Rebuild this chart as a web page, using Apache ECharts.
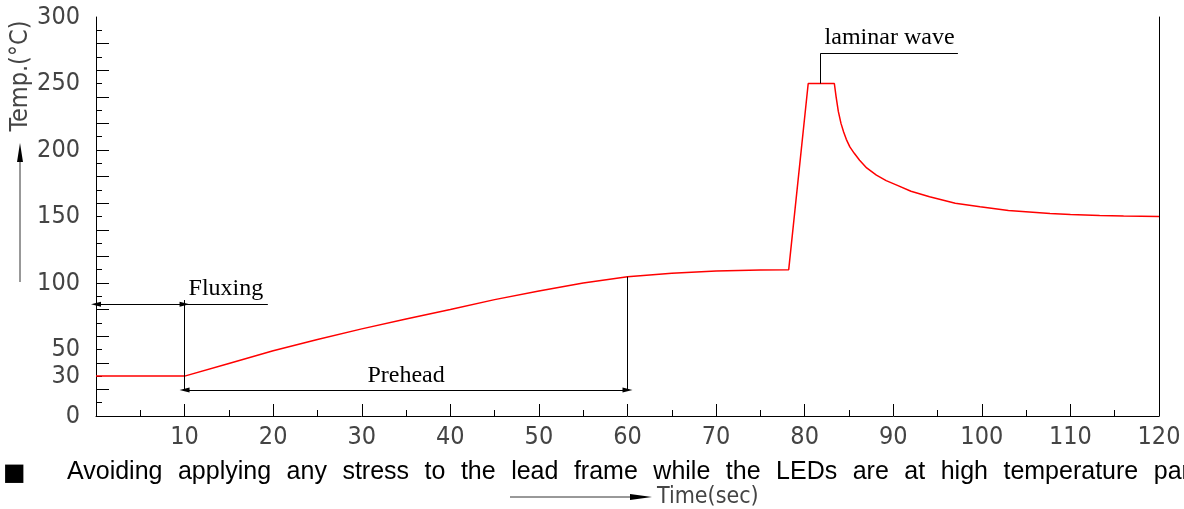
<!DOCTYPE html>
<html>
<head>
<meta charset="utf-8">
<title>Wave soldering profile</title>
<script src="https://cdn.jsdelivr.net/npm/echarts@6/dist/echarts.min.js"></script>
<style>
html, body { margin: 0; padding: 0; background: #fff; }
#main { width: 1184px; height: 509px; }
</style>
</head>
<body>
<div id="main"></div>
<script>
// 焊接温度曲线: 时间(sec) - 温度(°C)
var timeData = [0, 10, 15, 20, 25, 30, 35, 40, 45, 50, 55, 60, 65, 70, 75, 78.2,
    80.4, 81.8, 83.35, 83.55, 83.8, 84.1, 84.4, 84.7, 85.1, 85.6, 86.2, 87, 88.1, 89.2, 90.4,
    92, 94.1, 97, 99.8, 103, 107.7, 110, 113.3, 116, 120];
var tempData = [30, 30, 39.5, 49, 57.5, 65.5, 73, 80, 87.5, 94, 100, 104.7, 107.3, 109, 109.8, 110,
    250, 250, 250, 240, 229, 220, 213.6, 208, 202.3, 197.5, 192.3, 186.5, 181.1, 177, 173.6,
    169, 164.8, 160, 157.3, 154.5, 152.3, 151.5, 150.7, 150.3, 150];

// 刻度
var yLabels = [0, 30, 50, 100, 150, 200, 250, 300];
var yLongTicks = [20, 40, 60, 80, 100, 120, 140, 160, 180, 200, 220, 240, 260, 280];
var yShortTicks = [10, 30, 50, 70, 90, 110, 130, 150, 170, 190, 210, 230, 250, 270, 290];

// 标注 (数据坐标)
var fluxStart = 0, fluxEnd = 10, fluxLineEnd = 19.4, fluxY = 84, fluxTop = 87.2;
var preheadEnd = 60, preheadY = 19.5, preheadTop = 104.7;
var waveX = 81.8, wavePeak = 250, waveY = 272.7, waveLineEnd = 97.3;

var noteWords = ['Avoiding', 'applying', 'any', 'stress', 'to', 'the', 'lead', 'frame', 'while',
    'the', 'LEDs', 'are', 'at', 'high', 'temperature', 'par'];

var cadFont = "'Liberation Sans Narrow', 'DejaVu Sans Condensed', sans-serif";
var serifFont = "'Liberation Serif', 'DejaVu Serif', serif";

var lineData = timeData.map(function (t, i) { return [t, tempData[i]]; });

var chart = echarts.init(document.getElementById('main'));
var option = {
    animation: false,
    grid: {
        left: 96,
        right: 25,
        top: 17,
        bottom: 93
    },
    xAxis: [{
        type: 'value',
        min: 0,
        max: 120,
        interval: 10,
        axisLine: { show: false },
        axisTick: {
            inside: true,
            length: 12,
            lineStyle: { color: '#000' }
        },
        minorTick: {
            show: true,
            splitNumber: 2,
            length: 6,
            lineStyle: { color: '#000' }
        },
        splitLine: { show: false },
        axisLabel: {
            margin: 9,
            fontSize: 25,
            color: '#444',
            fontFamily: cadFont,
            formatter: function (v) { return v === 0 ? '' : v; }
        }
    }, {
        type: 'value',
        position: 'top',
        min: 0,
        max: 120,
        axisLine: { show: true, lineStyle: { color: '#000' } },
        axisTick: { show: false },
        axisLabel: { show: false },
        splitLine: { show: false }
    }],
    yAxis: [{
        type: 'value',
        position: 'left',
        min: 0,
        max: 300,
        axisLine: { show: true, lineStyle: { color: '#000' } },
        axisTick: {
            inside: true,
            length: 13,
            customValues: yLongTicks,
            lineStyle: { color: '#000' }
        },
        splitLine: { show: false },
        axisLabel: {
            customValues: yLabels,
            margin: 16,
            fontSize: 25,
            color: '#444',
            fontFamily: cadFont
        }
    }, {
        type: 'value',
        position: 'left',
        min: 0,
        max: 300,
        axisLine: { show: false },
        axisTick: {
            inside: true,
            length: 6,
            customValues: yShortTicks,
            lineStyle: { color: '#000' }
        },
        axisLabel: { show: false },
        splitLine: { show: false }
    }, {
        type: 'value',
        position: 'right',
        min: 0,
        max: 300,
        axisLine: { show: true, lineStyle: { color: '#000' } },
        axisTick: { show: false },
        axisLabel: { show: false },
        splitLine: { show: false }
    }],
    series: [{
        type: 'line',
        xAxisIndex: 0,
        yAxisIndex: 0,
        data: lineData,
        symbol: 'none',
        lineStyle: { color: '#ff0000', width: 1.5 },
        markLine: {
            silent: true,
            symbol: ['none', 'none'],
            symbolSize: [5, 10],
            lineStyle: { color: '#000', width: 1, type: 'solid' },
            label: {
                show: true,
                formatter: '',
                color: '#000',
                fontSize: 24,
                fontFamily: serifFont
            },
            emphasis: { disabled: true },
            data: [
                // Fluxing
                [{ coord: [fluxStart, fluxY], symbol: 'triangle' }, { coord: [fluxEnd, fluxY], symbol: 'triangle' }],
                [{ coord: [fluxEnd, fluxY], label: { formatter: 'Fluxing', position: 'insideStartTop', distance: 4 } },
                 { coord: [fluxLineEnd, fluxY] }],
                [{ coord: [fluxEnd, preheadY] }, { coord: [fluxEnd, fluxTop] }],
                // Prehead
                [{ coord: [fluxEnd, preheadY], symbol: 'triangle', label: { formatter: 'Prehead', position: 'insideMiddleTop', distance: 2 } },
                 { coord: [preheadEnd, preheadY], symbol: 'triangle' }],
                [{ coord: [preheadEnd, preheadY] }, { coord: [preheadEnd, preheadTop] }],
                // laminar wave
                [{ coord: [waveX, wavePeak] }, { coord: [waveX, waveY] }],
                [{ coord: [waveX, waveY], label: { formatter: 'laminar wave', position: 'insideStartTop', distance: 4 } },
                 { coord: [waveLineEnd, waveY] }]
            ]
        }
    }],
    graphic: [{
        type: 'text',
        x: 20,
        y: 76,
        rotation: Math.PI / 2,
        style: {
            text: 'Temp.(°C)',
            fill: '#444',
            font: '25px ' + cadFont,
            textAlign: 'center',
            textVerticalAlign: 'middle'
        }
    }, {
        type: 'line',
        shape: { x1: 20, y1: 282, x2: 20, y2: 158 },
        style: { stroke: '#333', lineWidth: 1 }
    }, {
        type: 'polygon',
        shape: { points: [[20, 143], [17, 162], [23, 162]] },
        style: { fill: '#000' }
    }, {
        type: 'line',
        shape: { x1: 510, y1: 497, x2: 636, y2: 497 },
        style: { stroke: '#333', lineWidth: 1 }
    }, {
        type: 'polygon',
        shape: { points: [[652, 497], [630, 494], [630, 500]] },
        style: { fill: '#000' }
    }, {
        type: 'text',
        x: 657,
        y: 497,
        style: {
            text: 'Time(sec)',
            fill: '#444',
            font: '23px ' + cadFont,
            textAlign: 'left',
            textVerticalAlign: 'middle'
        }
    }, {
        type: 'text',
        x: 3,
        y: 474,
        style: {
            text: '■',
            fill: '#000',
            font: '24px DejaVu Sans',
            textAlign: 'left',
            textVerticalAlign: 'middle'
        }
    }, {
        type: 'text',
        x: 67,
        y: 472,
        style: {
            text: noteWords.join('{sp| }'),
            fill: '#000',
            font: '25px Liberation Sans',
            textAlign: 'left',
            textVerticalAlign: 'middle',
            rich: {
                sp: { width: 15.5, font: '25px Liberation Sans' }
            }
        }
    }]
};
chart.setOption(option);
</script>
</body>
</html>
